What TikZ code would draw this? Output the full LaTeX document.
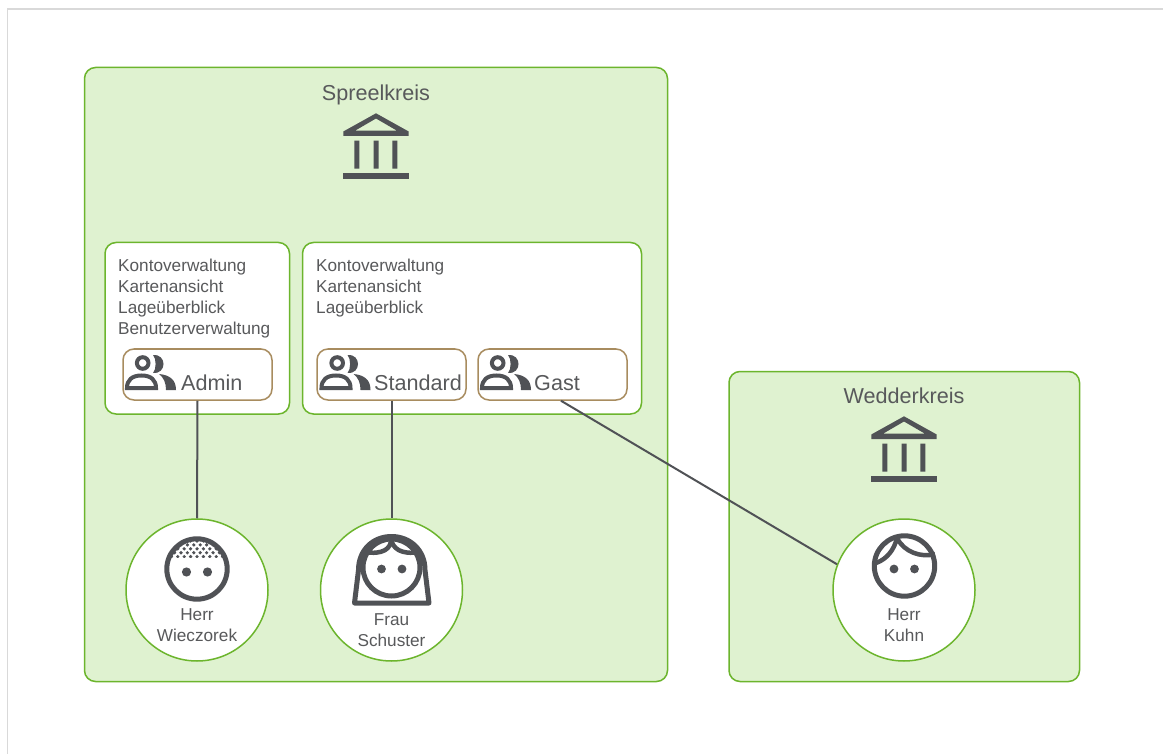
\documentclass[tikz,border=0pt]{standalone}
\usepackage{fontspec}
\setmainfont{Liberation Sans}
\definecolor{ink}{HTML}{58595B}
\definecolor{icon}{HTML}{505256}
\definecolor{grn}{HTML}{6CB52D}
\definecolor{pale}{HTML}{DFF2D0}
\definecolor{brn}{HTML}{A88C5F}
\definecolor{frame}{HTML}{D9D9D9}
\tikzset{
  area/.style={draw=grn,fill=pale,line width=1.5pt,rounded corners=11pt},
  panel/.style={draw=grn,fill=white,line width=1.5pt,rounded corners=11pt},
  rolebox/.style={draw=brn,fill=white,line width=1.5pt,rounded corners=11pt,inner sep=0pt,minimum width=149pt,minimum height=51pt},
  person/.style={circle,draw=grn,fill=white,line width=1.5pt,inner sep=0pt,minimum size=142pt},
  link/.style={draw=icon,line width=2pt},
  big/.style={text=ink,font=\fontsize{21.6}{25}\selectfont,inner sep=0pt,anchor=base},
  small/.style={text=ink,font=\fontsize{17.2}{21}\selectfont,inner sep=0pt,align=center},
  rights/.style={text=ink,font=\fontsize{17.2}{21}\selectfont,inner sep=0pt,align=left,anchor=north west},
  ico/.style={draw=icon,line width=5pt},
}
\newcommand{\bankicon}[2]{%
\begin{scope}[shift={(#1,#2)}]
  \fill[icon,even odd rule] (0,4.3) -- (32.7,22.5) -- (32.7,27) -- (-32.7,27) -- (-32.7,22.5) -- cycle
     (0,9.5) -- (21,21.7) -- (-21,21.7) -- cycle;
  \fill[icon] (-21.7,31.7) rectangle (-16.7,59.7) (-2.5,31.7) rectangle (2.5,59.7) (16.3,31.7) rectangle (21.3,59.7);
  \fill[icon] (-32.7,64.3) rectangle (32.7,69.7);
\end{scope}}
\newcommand{\usersicon}[2]{%
\begin{scope}[shift={(#1,#2)}]
  \draw[icon,line width=4pt] (19.7,14) circle (5.8);
  \fill[icon] (30,6) .. controls (37,5.5) and (40.5,10) .. (40.5,15) .. controls (40.5,20) and (37,24.5) .. (30,24) .. controls (33.5,20) and (33.5,10) .. (30,6) -- cycle;
  \draw[icon,line width=4pt,line join=miter] (4,39) .. controls (4,31) and (9,26.5) .. (18.5,26.5) .. controls (28,26.5) and (33,31) .. (33,39) -- cycle;
  \fill[icon] (36,25) .. controls (47,26) and (53,31) .. (53,41) -- (43,41) .. controls (43,34) and (41,29) .. (36,25) -- cycle;
\end{scope}}
\begin{document}
\begin{tikzpicture}[x=1pt,y=-1pt]
\useasboundingbox (0,0) rectangle (1163,754);
\fill[white] (0,0) rectangle (1163,754);
\draw[frame,line width=1.5pt] (7.5,754) -- (7.5,9) -- (1163,9);

\path[area] (84.5,67.5) rectangle (667.5,681.5);
\path[area] (729,371.5) rectangle (1079.5,681.5);
\node[big] (spree) at (376,100.5) {Spreelkreis};
\node[big] (wedder) at (904,403) {Wedderkreis};
\bankicon{376}{109}
\bankicon{904}{412}

\path[panel] (105,242.5) rectangle (289.5,414);
\path[panel] (302.5,242.5) rectangle (641.5,414);
\node[rights] (r1) at (118,259) {Kontoverwaltung\\Kartenansicht\\Lageüberblick\\Benutzerverwaltung};
\node[rights] (r2) at (316,259) {Kontoverwaltung\\Kartenansicht\\Lageüberblick};

\node[rolebox] (admin) at (197.5,374.5) {};
\node[rolebox] (standard) at (391.5,374.5) {};
\node[rolebox] (gast) at (552.5,374.5) {};
\usersicon{123}{349}
\usersicon{317.5}{349}
\usersicon{478}{349}
\node[big,anchor=base west] (ta) at (181,390) {Admin};
\node[big,anchor=base west] (ts) at (374,390) {Standard};
\node[big,anchor=base west] (tg) at (534,390) {Gast};

\node[person] (wie) at (197,590) {};
\node[person] (sch) at (391.5,590) {};
\node[person] (kuh) at (904,590) {};

\draw[link] (admin.south) -- (wie.north);
\draw[link] (standard.south) -- (sch.north);
\draw[link] ([xshift=8.5pt]gast.south) -- (kuh.159);

% Herr Wieczorek
\begin{scope}
  \clip (197,569) circle (30);
  \clip (160,530) rectangle (235,557);
  \foreach \r in {0,1,2,3,4}{
    \foreach \c in {-6,...,6}{
      \fill[icon] ({197+\c*6.4+mod(\r,2)*3.2},{541+\r*3.9}) circle (1.8);
    }}
\end{scope}
\draw[ico] (197,569) circle (30.2);
\fill[icon] (186.5,572) circle (4.6) (207.5,572) circle (4.6);
\node[small] (nw) at (197,625) {Herr\\Wieczorek};

% Frau Schuster
\draw[ico,line join=round] (354.5,603) -- (429,603) -- (425,570) .. controls (425,550) and (410,536.5) .. (391.5,536.5) .. controls (373,536.5) and (358.5,550) .. (358.5,570) -- cycle;
\draw[ico,fill=white] (391.5,567.5) circle (28.5);
\draw[ico,line width=4.5pt] (391,538) .. controls (392,549) and (382,555) .. (365,552);
\draw[ico,line width=4.5pt] (391,538) .. controls (392,549) and (402,555) .. (419,552);
\fill[icon] (381.5,569) circle (4.4) (402,569) circle (4.4);
\node[small] (nf) at (391.5,630.5) {Frau\\Schuster};

% Herr Kuhn
\draw[ico] (904.5,566) circle (30.2);
\draw[ico,line width=4.5pt] (876,563) .. controls (887,559) and (894,550) .. (897,538);
\draw[ico,line width=4.5pt] (897,538) .. controls (904,552) and (921,558) .. (935,554);
\fill[icon] (894,569) circle (4.4) (914.5,569) circle (4.4);
\node[small] (nk) at (904,625) {Herr\\Kuhn};
\end{tikzpicture}
\end{document}
